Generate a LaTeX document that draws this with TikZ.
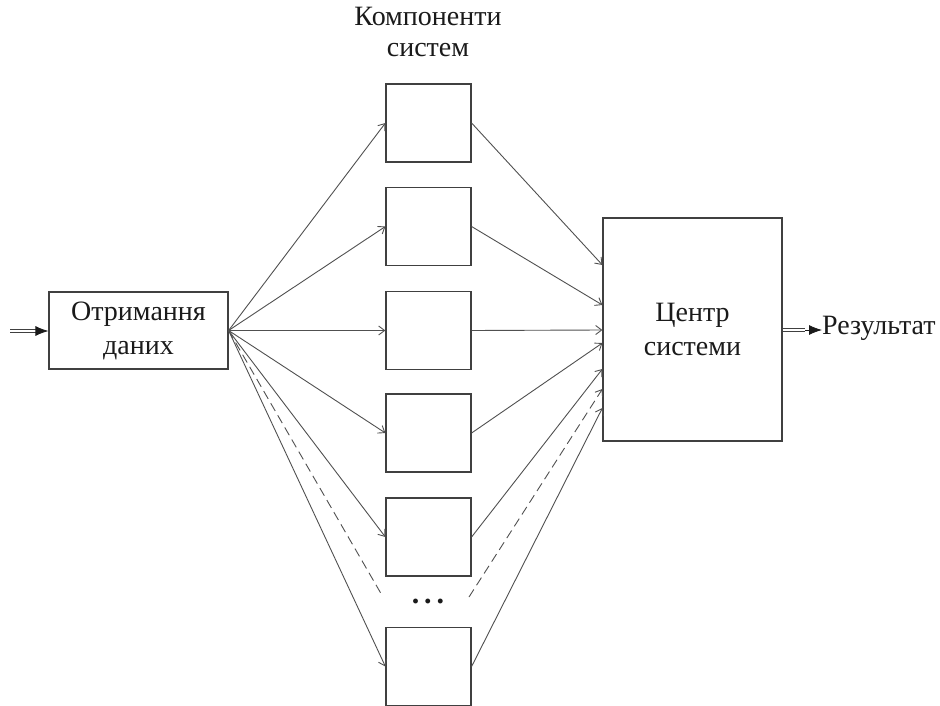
\documentclass[tikz,border=0pt]{standalone}
\usepackage{fontspec}
\setmainfont{Liberation Serif}
\usetikzlibrary{arrows.meta}
\definecolor{edge}{HTML}{505050}
\definecolor{frame}{HTML}{404040}
\definecolor{ink}{HTML}{1A1A1A}
\begin{document}
\begin{tikzpicture}[x=1pt,y=-1pt,
  blk/.style={draw=frame, line width=1.2pt, inner sep=0pt, text=ink,
    font=\fontsize{28}{34}\selectfont, align=center},
  comp/.style={blk, minimum width=85pt, minimum height=78pt},
  link/.style={draw=edge, line width=0.9pt,
    -{Straight Barb[length=6pt,width=9pt,line width=0.9pt]}},
  dlink/.style={link, dash pattern=on 9pt off 5pt},
  dline/.style={draw=edge, line width=0.9pt, dash pattern=on 9pt off 5pt},
  twin/.style={draw=frame, double=white, double distance=1.6pt, line width=1.2pt},
  head/.style={draw=ink, line width=0.8pt, -{Latex[length=13pt,width=10pt]}},
  lbl/.style={text=ink, font=\fontsize{28}{31}\selectfont, align=center, inner sep=0pt}]
\useasboundingbox (0,0) rectangle (940,706);

% input block and output centre
\node[blk, minimum width=179pt, minimum height=77pt] (recv) at (138.5,330.5) {Отримання\\даних};
\node[blk, minimum width=179pt, minimum height=223pt] (hub) at (692.5,329.5) {Центр\\системи};

% component blocks
\node[comp] (c1) at (428.5,123) {};
\node[comp] (c2) at (428.5,226.5) {};
\node[comp] (c3) at (428.5,330.5) {};
\node[comp] (c4) at (428.5,433) {};
\node[comp] (c5) at (428.5,537) {};
\node[comp] (c6) at (428.5,666.5) {};

\node[lbl] (title) at (428,32) {Компоненти\\систем};
\node[text=ink, font=\fontsize{30}{31}\selectfont\bfseries, inner sep=0pt] (dots) at (428,601) {.\hspace{5pt}.\hspace{5pt}.};

% entry points on the left side of the centre block
\coordinate (h1) at ([yshift=64.5pt]hub.west);
\coordinate (h2) at ([yshift=24.5pt]hub.west);
\coordinate (h3) at ([yshift=-0.5pt]hub.west);
\coordinate (h4) at ([yshift=-13.5pt]hub.west);
\coordinate (h5) at ([yshift=-39.5pt]hub.west);
\coordinate (hd) at ([yshift=-59.5pt]hub.west);
\coordinate (h6) at ([yshift=-78.5pt]hub.west);

% ends of the dashed "more components" lines
\coordinate (dl) at (383,597);
\coordinate (dr) at (469,597);

% fan-out to the components
\foreach \k in {1,...,6} \draw[link] (recv.east) -- (c\k.west);
\draw[dline] (recv.east) -- (dl);

% fan-in to the centre
\foreach \k in {1,...,6} \draw[link] (c\k.east) -- (h\k);
\draw[dlink] (dr) -- (hd);

% input and output arrows
\coordinate (inA) at (10,331);
\coordinate (inB) at (36,331);
\draw[twin] (inA) -- (inB);
\draw[head] (inB) -- (recv.west |- inB);

\coordinate (outB) at (805,330);
\draw[twin] (hub.east |- outB) -- (outB);
\node[lbl, anchor=west] (res) at (822,328) {Результат};
\draw[head] (outB) -- (res.west |- outB);
\end{tikzpicture}
\end{document}
